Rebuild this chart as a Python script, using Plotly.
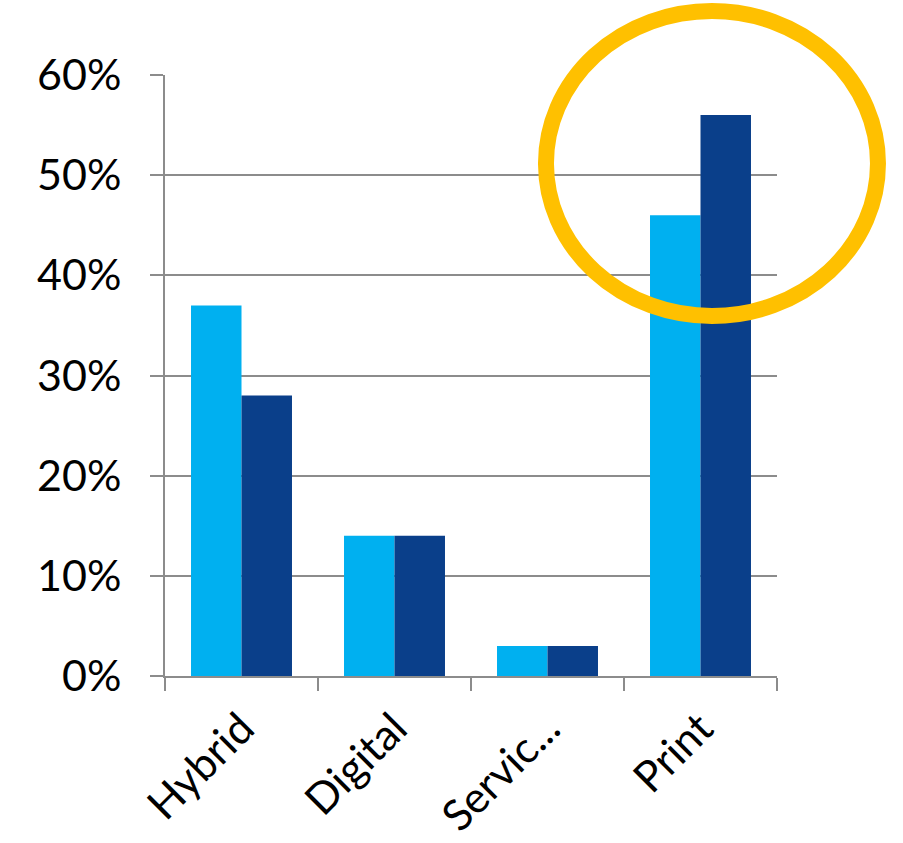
import plotly.graph_objects as go

categories = ["Hybrid", "Digital", "Servic...", "Print"]
series_a = [37, 14, 3, 46]
series_b = [28, 14, 3, 56]
y_ticks = [0, 10, 20, 30, 40, 50, 60]
y_tick_labels = ["0%", "10%", "20%", "30%", "40%", "50%", "60%"]

font_family = "Lato, 'Noto Sans', sans-serif"
grid_color = "#8c8c8c"

fig = go.Figure()
fig.add_trace(go.Bar(x=categories, y=series_a, marker=dict(color="#00B0F0", line=dict(width=0)),
                     showlegend=False))
fig.add_trace(go.Bar(x=categories, y=series_b, marker=dict(color="#0A3F8A", line=dict(width=0)),
                     showlegend=False))

fig.update_layout(
    width=903, height=843,
    margin=dict(l=165, r=126, t=75, b=167),
    plot_bgcolor="white", paper_bgcolor="white",
    barmode="group", bargap=0.34, bargroupgap=0,
    font=dict(family=font_family, size=43, color="black"),
    xaxis=dict(
        tickangle=-45, ticks="outside", tickson="boundaries", ticklen=13,
        tickcolor=grid_color, tickwidth=2,
        showline=True, linecolor=grid_color, linewidth=2,
        showgrid=False, tickfont=dict(size=43), ticklabelstandoff=8,
        automargin=False,
    ),
    yaxis=dict(
        range=[0, 60], tickvals=y_ticks, ticktext=y_tick_labels,
        ticks="outside", ticklen=13, tickcolor=grid_color, tickwidth=2,
        showline=True, linecolor=grid_color, linewidth=2,
        showgrid=True, gridcolor=grid_color, gridwidth=2,
        zeroline=False, tickfont=dict(size=43), ticklabelstandoff=20,
        automargin=False,
    ),
    # Gold ellipse highlighting the Print group
    shapes=[dict(
        type="circle", xref="paper", yref="paper",
        x0=0.6225, x1=1.165, y0=0.599, y1=1.1065,
        line=dict(color="#FFC000", width=16), layer="above",
    )],
)

fig.write_html("out.html")
